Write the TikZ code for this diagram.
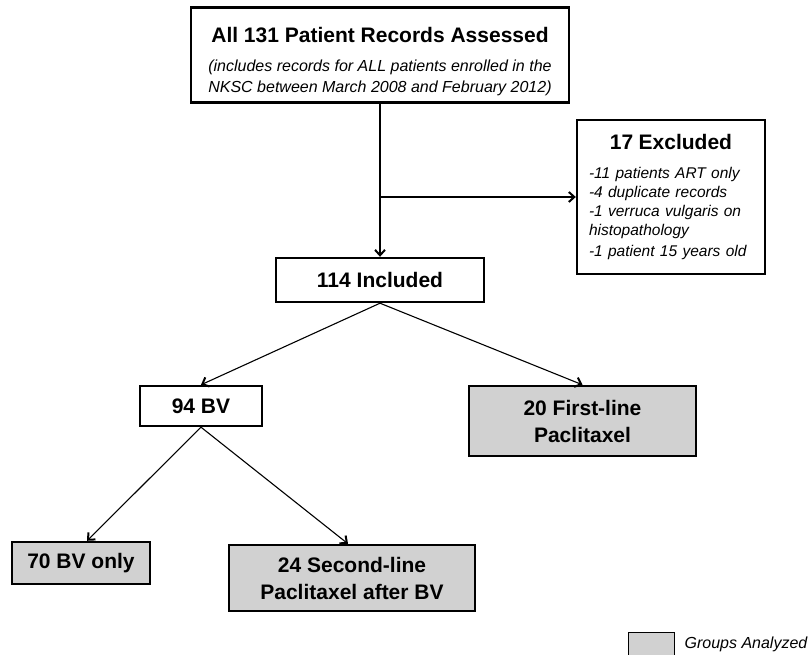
\documentclass[tikz,border=0pt]{standalone}
\usepackage{fontspec}
\setmainfont{Liberation Sans}
\usetikzlibrary{arrows.meta,positioning}

\begin{document}
\begin{tikzpicture}[x=1pt, y=-1pt, >={Straight Barb[length=5.5pt,width=10pt,line width=2pt]},
  font=\fontsize{16}{21}\selectfont,
  box/.style={draw, line width=2.4pt, inner sep=0pt, align=center},
  grp/.style={box, fill=black!18},
  head/.style={font=\fontsize{21}{27}\selectfont\bfseries},
  flow/.style={->, line width=1.1pt}]
  \useasboundingbox (0,0) rectangle (808,655);
  % assessed records
  \node[box, minimum width=378, minimum height=95] (all) at (380,55)
    {{\rule{0pt}{29pt}\fontsize{21}{25}\selectfont\bfseries All 131 Patient Records Assessed}\\[8pt]
     {\itshape (includes records for ALL patients enrolled in the}\\
     {\itshape NKSC between March 2008 and February 2012)}};
  % exclusions
  \node[box, align=left, text width=164pt, inner xsep=12pt, minimum height=154] (excl) at (671,197)
    {{\centering\fontsize{21}{25}\selectfont\bfseries 17 Excluded\par}
     \vspace{10pt}
     \fontsize{15.5}{19.2}\selectfont\itshape -11 patients ART only\\
     -4 duplicate records\\
     -1 verruca vulgaris on\\
     histopathology\\
     -1 patient 15 years old};
  % included and treatment groups
  \node[box, head, minimum width=208, minimum height=44] (incl) at (380,280) {114 Included};
  \node[box, head, minimum width=122, minimum height=40] (bv) at (201,406) {94 BV};
  \node[grp, head, minimum width=227, minimum height=70] (first) at (582.5,421)
    {20 First-line\\Paclitaxel};
  \node[grp, head, minimum width=138, minimum height=42] (only) at (81,563)
    {70 BV only};
  \node[grp, head, minimum width=246, minimum height=66] (second) at (352,578)
    {24 Second-line\\Paclitaxel after BV};
  % connectors
  \draw[flow] (all.south) -- (incl.north);
  \coordinate (split) at (all.south |- excl.west);
  \draw[flow] (split) -- (excl.west);
  \draw[flow] (incl.south) -- (bv.north);
  \draw[flow] (incl.south) -- (first.north);
  \draw[flow] (bv.south) -- ([xshift=6pt]only.north);
  \draw[flow] (bv.south) -- ([xshift=-4pt]second.north);
  % legend
  \node[draw, fill=black!18, line width=0.8pt, minimum width=46, minimum height=24, inner sep=0pt] (key) at (651,644) {};
  \node[right=10pt of key, font=\fontsize{16}{19}\selectfont\itshape, inner sep=0pt] (keytext) {Groups Analyzed};
\end{tikzpicture}
\end{document}
